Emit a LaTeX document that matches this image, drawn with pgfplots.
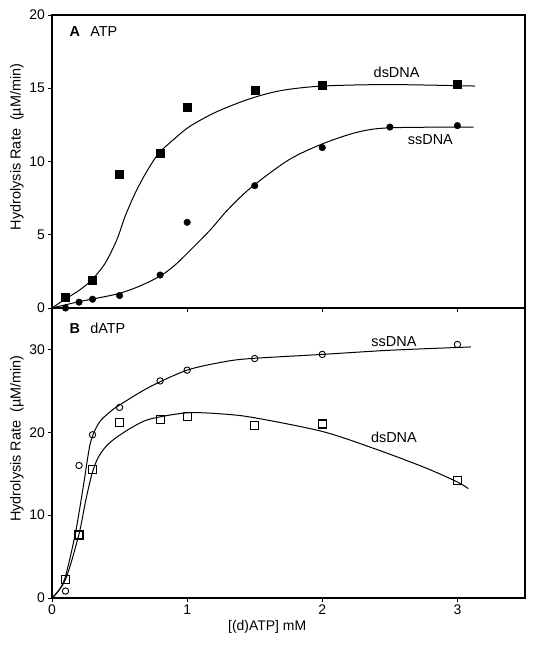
\documentclass[border=0pt]{standalone}
\usepackage{fontspec}
\setmainfont{Liberation Sans}
\usepackage{pgfplots}
\pgfplotsset{compat=1.18}

\begin{document}
\begin{tikzpicture}
\pgfplotsset{
  panel/.style={
    width=473bp, scale only axis,
    xmin=0, xmax=3.5,
    axis line style={line width=1.1bp},
    tick style={line width=0.8bp, black},
    tick align=outside, major tick length=3.5bp,
    xtick={0,1,2,3},
    xtick pos=bottom, ytick pos=left,
    /pgf/number format/assume math mode=true,
    tick label style={font=\fontsize{14}{16}\selectfont},
    every axis x label/.style={font=\fontsize{14}{16}\selectfont, at={(axis description cs:0.455,0)}, anchor=north, yshift=-19bp},
    every axis y label/.style={font=\fontsize{14.5}{16}\selectfont, at={(axis description cs:-0.074,0.55)}, rotate=90, anchor=center},
  },
  fitline/.style={black, line width=1bp, smooth, no markers},
}
% ---------------- Panel A ----------------
\begin{axis}[panel, name=A, height=293bp, ymin=0, ymax=20, ytick={0,5,10,15,20},
  xticklabels={}, ylabel={Hydrolysis Rate\ \ (µM/min)}]
\addplot[fitline] coordinates {
 (0,0) (0.1,0.62) (0.2,1.2) (0.294,1.91) (0.393,3.05) (0.479,4.64) (0.54,6.23)
 (0.615,7.83) (0.70,9.3) (0.79,10.56) (0.9,11.5) (1.02,12.4) (1.22,13.4)
 (1.47,14.3) (1.7,14.85) (2.0,15.15) (2.5,15.25) (3.13,15.15)};
\addplot[fitline] coordinates {
 (0,0) (0.2,0.43) (0.35,0.7) (0.5,1.0) (0.65,1.5) (0.8,2.18) (0.9,2.85) (1.0,3.73)
 (1.17,5.32) (1.3,6.7) (1.47,8.2) (1.75,10.1) (2.0,11.2) (2.26,12.0) (2.5,12.3) (3.12,12.35)};
\addplot[only marks, mark=square*, mark size=4bp, black] coordinates {
 (0.1,0.77) (0.3,1.9) (0.5,9.1) (0.8,10.6) (1.0,13.7) (1.5,14.9) (2.0,15.2) (3.0,15.25)};
\addplot[only marks, mark=*, mark size=3.3bp, black] coordinates {
 (0.1,0.0) (0.2,0.4) (0.3,0.6) (0.5,0.85) (0.8,2.25) (1.0,5.85) (1.5,8.35)
 (2.0,10.95) (2.5,12.35) (3.0,12.45)};
\node[anchor=west, font=\fontsize{14.5}{16}\selectfont] at (axis cs:0.105,18.85) {\textbf{A}\hspace{0.7em}ATP};
\node[font=\fontsize{14.5}{16}\selectfont] at (axis cs:2.55,16.1) {dsDNA};
\node[font=\fontsize{14.5}{16}\selectfont] at (axis cs:2.8,11.5) {ssDNA};
\end{axis}
% ---------------- Panel B ----------------
\begin{axis}[panel, name=B, at={(A.south west)}, anchor=north west, height=290bp,
  ymin=0, ymax=35, ytick={0,10,20,30},
  xlabel={[(d)ATP] mM}, ylabel={Hydrolysis Rate\ \ (µM/min)}]
\addplot[fitline] coordinates {
 (0,0) (0.05,0.9) (0.099,2.57) (0.173,7.8) (0.235,13.8) (0.284,18.7) (0.346,21.1)
 (0.432,22.5) (0.52,23.5) (0.726,25.5) (1.0,27.5) (1.27,28.5) (1.47,28.9)
 (2.0,29.4) (2.5,29.9) (3.1,30.3)};
\addplot[fitline] coordinates {
 (0,0) (0.099,2.2) (0.198,7.6) (0.25,11.8) (0.296,15.0) (0.34,16.9) (0.4,18.3)
 (0.47,19.3) (0.593,20.6) (0.726,21.6) (1.0,22.35) (1.27,22.2) (1.5,21.75)
 (2.0,20.1) (2.38,18.06) (2.75,15.8) (3.0,14.0) (3.08,13.2)};
\addplot[only marks, mark=o, mark size=3.2bp, black, mark options={line width=0.9bp}] coordinates {
 (0.1,0.84) (0.2,16.0) (0.3,19.7) (0.5,23.0) (0.8,26.2) (1.0,27.5) (1.5,28.9)
 (2.0,29.4) (3.0,30.6)};
\addplot[only marks, mark=square, mark size=4bp, black, mark options={line width=1.1bp}] coordinates {
 (0.1,2.2) (0.2,7.6) (0.3,15.5) (0.5,21.2) (0.8,21.55) (1.0,21.95) (1.5,20.85)
 (2.0,21.0) (3.0,14.2)};
\node[anchor=west, font=\fontsize{14.5}{16}\selectfont] at (axis cs:0.105,32.57) {\textbf{B}\hspace{0.7em}dATP};
\node[font=\fontsize{14.5}{16}\selectfont] at (axis cs:2.53,30.9) {ssDNA};
\node[font=\fontsize{14.5}{16}\selectfont] at (axis cs:2.53,19.4) {dsDNA};
\end{axis}
\pgfresetboundingbox
\path[use as bounding box] ([xshift=-52bp,yshift=15bp]A.north west) rectangle ([xshift=12bp,yshift=-51bp]B.south east);
\end{tikzpicture}
\end{document}
